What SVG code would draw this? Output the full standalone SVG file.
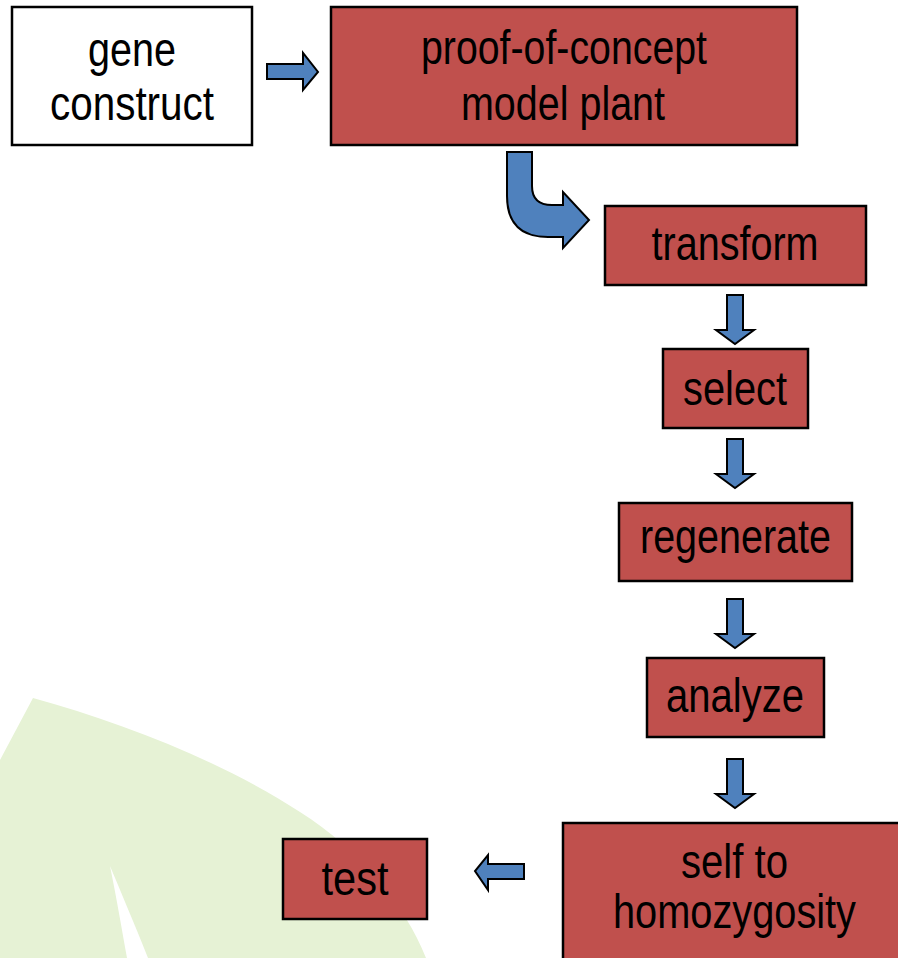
<svg xmlns="http://www.w3.org/2000/svg" width="898" height="958" viewBox="0 0 898 958">
  <defs>
    <style>
      .box { fill: #c0504d; stroke: #000; stroke-width: 2.5; }
      .plain { fill: #fff; stroke: #000; stroke-width: 2.5; }
      .lbl { font-family: "Liberation Sans Narrow", "Liberation Sans", Arial, sans-serif; font-size: 48px; fill: #000; text-anchor: middle; }
      .arr { fill: #4f81bd; stroke: #000; stroke-width: 2; stroke-linejoin: miter; }
    </style>
    <!-- down arrow, origin at shaft top centre -->
    <path id="down" class="arr" d="M-8,0 L8,0 L8,35 L19,35 L0,49 L-19,35 L-8,35 Z"/>
  </defs>

  <rect width="898" height="958" fill="#fff"/>

  <!-- leaf in the background -->
  <g id="leaf">
    <path d="M33,698 C120,722 220,760 300,812 C360,850 405,905 426,958 L0,958 L0,760 Z" fill="#e6f2d5"/>
    <path d="M110,866 C116,895 122,930 127,958 L148,958 C135,925 120,890 110,866 Z" fill="#fff"/>
  </g>

  <g id="gene-construct">
    <rect class="plain" x="12" y="7" width="240" height="138"/>
    <text class="lbl" x="132" y="66" textLength="88" lengthAdjust="spacingAndGlyphs">gene</text>
    <text class="lbl" x="132" y="120" textLength="164" lengthAdjust="spacingAndGlyphs">construct</text>
  </g>

  <g id="model-plant">
    <rect class="box" x="331" y="7" width="466" height="138"/>
    <text class="lbl" x="564" y="64" textLength="286" lengthAdjust="spacingAndGlyphs">proof-of-concept</text>
    <text class="lbl" x="563" y="120" textLength="204" lengthAdjust="spacingAndGlyphs">model plant</text>
  </g>

  <g id="transform">
    <rect class="box" x="605" y="206" width="261" height="79"/>
    <text class="lbl" x="735" y="260" textLength="167" lengthAdjust="spacingAndGlyphs">transform</text>
  </g>

  <g id="select">
    <rect class="box" x="663" y="349" width="145" height="79"/>
    <text class="lbl" x="735" y="405" textLength="104" lengthAdjust="spacingAndGlyphs">select</text>
  </g>

  <g id="regenerate">
    <rect class="box" x="619" y="503" width="233" height="78"/>
    <text class="lbl" x="735.5" y="553" textLength="191" lengthAdjust="spacingAndGlyphs">regenerate</text>
  </g>

  <g id="analyze">
    <rect class="box" x="647" y="658" width="177" height="79"/>
    <text class="lbl" x="735" y="712" textLength="138" lengthAdjust="spacingAndGlyphs">analyze</text>
  </g>

  <g id="self">
    <rect class="box" x="563" y="823" width="345" height="150"/>
    <text class="lbl" x="734.5" y="878" textLength="107" lengthAdjust="spacingAndGlyphs">self to</text>
    <text class="lbl" x="734.5" y="928" textLength="243" lengthAdjust="spacingAndGlyphs">homozygosity</text>
  </g>

  <g id="test">
    <rect class="box" x="283" y="839" width="144" height="80"/>
    <text class="lbl" x="355" y="895" textLength="67" lengthAdjust="spacingAndGlyphs">test</text>
  </g>

  <g id="connectors">
    <!-- gene construct -> model plant -->
    <path class="arr" d="M267,64 L303,64 L303,53 L318,72 L303,90 L303,79 L267,79 Z"/>
    <!-- model plant -> transform (bent arrow) -->
    <path class="arr" d="M507,152 L532,152 L532,186 Q532,205 552,205 L563,205 L563,192 L589,220 L563,248 L563,237 L548,237 Q507,237 507,196 Z"/>
    <use href="#down" x="735" y="295"/>
    <use href="#down" x="735" y="439"/>
    <use href="#down" x="735" y="599"/>
    <use href="#down" x="735" y="759"/>
    <!-- self to homozygosity -> test -->
    <path class="arr" d="M524,864 L488,864 L488,855 L475,871 L488,890 L488,879 L524,879 Z"/>
  </g>
</svg>
